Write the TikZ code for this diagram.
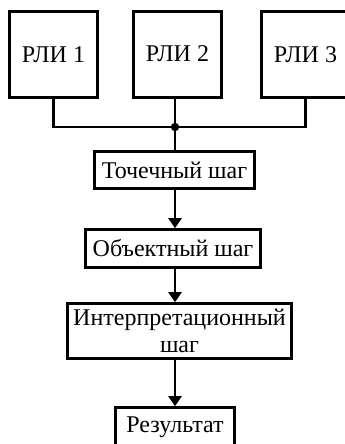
\documentclass[tikz,border=0pt]{standalone}
\usepackage{fontspec}
\setmainfont{Liberation Serif}
\usetikzlibrary{arrows.meta}
\begin{document}
\begin{tikzpicture}[x=1pt,y=-1pt,line width=2.6pt,
  box/.style={draw,inner sep=0pt,align=center,font=\fontsize{24}{27}\selectfont},
  arr/.style={-{Triangle[width=13pt,length=10pt]}}]
\useasboundingbox (0,0) rectangle (345,444);
\clip (0,0) rectangle (345,444);
\node[box,minimum width=88pt,minimum height=86pt] (r1) at (53.5,54.5) {РЛИ 1};
\node[box,minimum width=88pt,minimum height=86pt] (r2) at (177.5,54.5) {\raisebox{2pt}{РЛИ 2}};
\node[box,minimum width=88pt,minimum height=86pt] (r3) at (305.5,54.5) {РЛИ 3};
\coordinate (j) at (175,127);
\node[box,minimum width=160pt,minimum height=37pt] (t) at (174.5,170) {Точечный шаг};
\node[box,minimum width=175pt,minimum height=38pt] (o) at (173,248.5) {Объектный шаг};
\node[box,minimum width=224pt,minimum height=55pt] (i) at (179.5,331) {Интерпретационный\\шаг};
\node[box,minimum width=119pt,minimum height=39pt] (res) at (175,427) {Результат};
\draw (r1.south) |- (j) -| (r3.south);
\draw (r2.south -| j) -- (j);
\fill (j) circle (4.2pt);
\draw (j) -- (t.north -| j);
\draw[arr] (t.south -| j) -- (o.north -| j);
\draw[arr] (o.south -| j) -- (i.north -| j);
\draw[arr] (i.south -| j) -- (res.north -| j);
\end{tikzpicture}
\end{document}
